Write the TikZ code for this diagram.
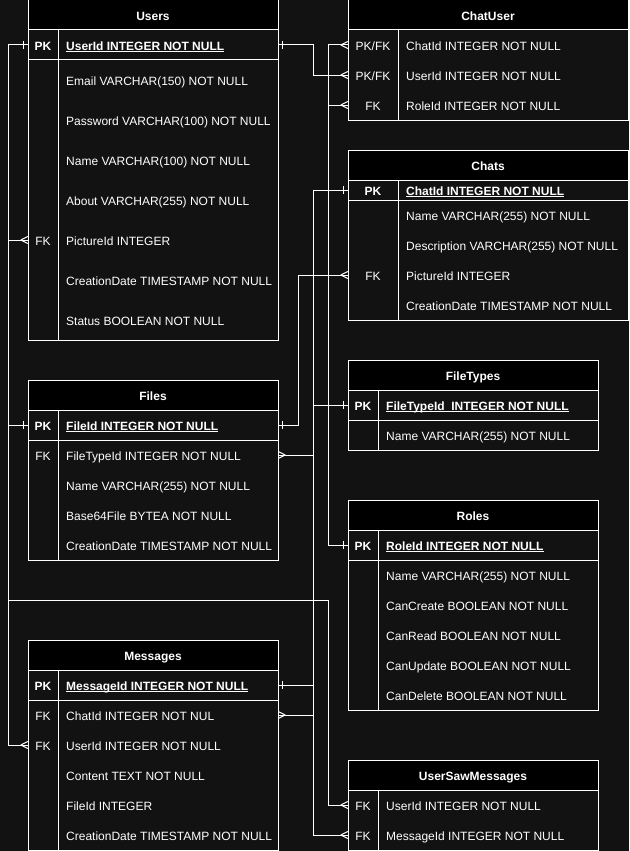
\documentclass[tikz,border=0pt]{standalone}
\usepackage{fontspec}
\setmainfont{Liberation Sans}
\definecolor{bgc}{HTML}{121212}
\newcommand\pkul[1]{\setbox0\hbox{#1}\rlap{\rule[-2pt]{\wd0}{0.8pt}}\box0}
\begin{document}
\begin{tikzpicture}[x=1pt,y=-1pt,
  tblbox/.style={draw=white, line width=1pt, inner sep=0pt, minimum width=#1},
  hdr/.style={draw=white, fill=black, line width=1pt},
  sep/.style={draw=white, line width=1pt},
  rowbox/.style={draw=none, inner sep=0pt, minimum width=#1},
  fld/.style={anchor=west, text=white, inner sep=0pt, text height=8.6pt, text depth=0pt, yshift=-0.8pt, font=\fontsize{12}{14}\selectfont},
  fldb/.style={fld, font=\bfseries\fontsize{12}{14}\selectfont},
  keyl/.style={anchor=center, text=white, inner sep=0pt, text height=8.6pt, text depth=0pt, yshift=-0.8pt, font=\fontsize{12}{14}\selectfont},
  keyb/.style={keyl, font=\bfseries\fontsize{12}{14}\selectfont},
  ttl/.style={keyb},
  conn/.style={draw=white, line width=1pt},
  pics/onemk/.style={code={\draw[conn] (-4,-4) -- (-4,4);}},
  pics/manymk/.style={code={\draw[conn] (-7,0) -- (0,-3.5) (-7,0) -- (0,3.5);}},
]
\useasboundingbox (0,0) rectangle (629,851);
\fill[bgc] (0,0) rectangle (629,851);

% ---------------- Users ----------------
\node[tblbox=250pt, minimum height=340pt] (users) at (153,170) {};
\draw[hdr] (28,0) rectangle (278,30);
\node[ttl] (usersT) at (153,15) {Users};
\draw[sep] (58,30) -- (58,340);
\draw[sep] (28,60) -- (278,60);
\node[rowbox=250pt, minimum height=30pt] (uUid) at (153,45) {};
\node[keyb] (uUidK) at (43,45) {PK};
\node[fldb] (uUidT) at (66,45) {\pkul{UserId INTEGER NOT NULL}};
\node[fld] (uEmail) at (66,80) {Email VARCHAR(150) NOT NULL};
\node[fld] (uPass) at (66,120) {Password VARCHAR(100) NOT NULL};
\node[fld] (uName) at (66,160) {Name VARCHAR(100) NOT NULL};
\node[fld] (uAbout) at (66,200) {About VARCHAR(255) NOT NULL};
\node[rowbox=250pt, minimum height=40pt] (uPic) at (153,240) {};
\node[keyl] (uPicK) at (43,240) {FK};
\node[fld] (uPicT) at (66,240) {PictureId INTEGER};
\node[fld] (uCr) at (66,280) {CreationDate TIMESTAMP NOT NULL};
\node[fld] (uSt) at (66,320) {Status BOOLEAN NOT NULL};

% ---------------- ChatUser ----------------
\node[tblbox=280pt, minimum height=120pt] (chatuser) at (488,60) {};
\draw[hdr] (348,0) rectangle (628,30);
\node[ttl] (chatuserT) at (488,15) {ChatUser};
\draw[sep] (398,30) -- (398,120);
\node[rowbox=280pt, minimum height=30pt] (cuCid) at (488,45) {};
\node[keyl] (cuCidK) at (373,45) {PK/FK};
\node[fld] (cuCidT) at (406,45) {ChatId INTEGER NOT NULL};
\node[rowbox=280pt, minimum height=30pt] (cuUid) at (488,75) {};
\node[keyl] (cuUidK) at (373,75) {PK/FK};
\node[fld] (cuUidT) at (406,75) {UserId INTEGER NOT NULL};
\node[rowbox=280pt, minimum height=30pt] (cuRid) at (488,105) {};
\node[keyl] (cuRidK) at (373,105) {FK};
\node[fld] (cuRidT) at (406,105) {RoleId INTEGER NOT NULL};

% ---------------- Chats ----------------
\node[tblbox=280pt, minimum height=170pt] (chats) at (488,235) {};
\draw[hdr] (348,150) rectangle (628,180);
\node[ttl] (chatsT) at (488,165) {Chats};
\draw[sep] (398,180) -- (398,320);
\draw[sep] (348,200) -- (628,200);
\node[rowbox=280pt, minimum height=20pt] (chId) at (488,190) {};
\node[keyb] (chIdK) at (373,190) {PK};
\node[fldb] (chIdT) at (406,190) {\pkul{ChatId INTEGER NOT NULL}};
\node[fld] (chName) at (406,215) {Name VARCHAR(255) NOT NULL};
\node[fld] (chDesc) at (406,245) {Description VARCHAR(255) NOT NULL};
\node[rowbox=280pt, minimum height=30pt] (chPic) at (488,275) {};
\node[keyl] (chPicK) at (373,275) {FK};
\node[fld] (chPicT) at (406,275) {PictureId INTEGER};
\node[fld] (chCr) at (406,305) {CreationDate TIMESTAMP NOT NULL};

% ---------------- Files ----------------
\node[tblbox=250pt, minimum height=180pt] (files) at (153,470) {};
\draw[hdr] (28,380) rectangle (278,410);
\node[ttl] (filesT) at (153,395) {Files};
\draw[sep] (58,410) -- (58,560);
\draw[sep] (28,440) -- (278,440);
\node[rowbox=250pt, minimum height=30pt] (fId) at (153,425) {};
\node[keyb] (fIdK) at (43,425) {PK};
\node[fldb] (fIdT) at (66,425) {\pkul{FileId INTEGER NOT NULL}};
\node[rowbox=250pt, minimum height=30pt] (fFt) at (153,455) {};
\node[keyl] (fFtK) at (43,455) {FK};
\node[fld] (fFtT) at (66,455) {FileTypeId INTEGER NOT NULL};
\node[fld] (fName) at (66,485) {Name VARCHAR(255) NOT NULL};
\node[fld] (fB64) at (66,515) {Base64File BYTEA NOT NULL};
\node[fld] (fCr) at (66,545) {CreationDate TIMESTAMP NOT NULL};

% ---------------- FileTypes ----------------
\node[tblbox=250pt, minimum height=90pt] (filetypes) at (473,405) {};
\draw[hdr] (348,360) rectangle (598,390);
\node[ttl] (filetypesT) at (473,375) {FileTypes};
\draw[sep] (378,390) -- (378,450);
\draw[sep] (348,420) -- (598,420);
\node[rowbox=250pt, minimum height=30pt] (ftId) at (473,405) {};
\node[keyb] (ftIdK) at (363,405) {PK};
\node[fldb] (ftIdT) at (386,405) {\pkul{FileTypeId\ \ INTEGER NOT NULL}};
\node[fld] (ftName) at (386,435) {Name VARCHAR(255) NOT NULL};

% ---------------- Roles ----------------
\node[tblbox=250pt, minimum height=210pt] (roles) at (473,605) {};
\draw[hdr] (348,500) rectangle (598,530);
\node[ttl] (rolesT) at (473,515) {Roles};
\draw[sep] (378,530) -- (378,710);
\draw[sep] (348,560) -- (598,560);
\node[rowbox=250pt, minimum height=30pt] (rId) at (473,545) {};
\node[keyb] (rIdK) at (363,545) {PK};
\node[fldb] (rIdT) at (386,545) {\pkul{RoleId INTEGER NOT NULL}};
\node[fld] (rName) at (386,575) {Name VARCHAR(255) NOT NULL};
\node[fld] (rCc) at (386,605) {CanCreate BOOLEAN NOT NULL};
\node[fld] (rCr) at (386,635) {CanRead BOOLEAN NOT NULL};
\node[fld] (rCu) at (386,665) {CanUpdate BOOLEAN NOT NULL};
\node[fld] (rCd) at (386,695) {CanDelete BOOLEAN NOT NULL};

% ---------------- Messages ----------------
\node[tblbox=250pt, minimum height=210pt] (messages) at (153,745) {};
\draw[hdr] (28,640) rectangle (278,670);
\node[ttl] (messagesT) at (153,655) {Messages};
\draw[sep] (58,670) -- (58,850);
\draw[sep] (28,700) -- (278,700);
\node[rowbox=250pt, minimum height=30pt] (mId) at (153,685) {};
\node[keyb] (mIdK) at (43,685) {PK};
\node[fldb] (mIdT) at (66,685) {\pkul{MessageId INTEGER NOT NULL}};
\node[rowbox=250pt, minimum height=30pt] (mCid) at (153,715) {};
\node[keyl] (mCidK) at (43,715) {FK};
\node[fld] (mCidT) at (66,715) {ChatId INTEGER NOT NUL};
\node[rowbox=250pt, minimum height=30pt] (mUid) at (153,745) {};
\node[keyl] (mUidK) at (43,745) {FK};
\node[fld] (mUidT) at (66,745) {UserId INTEGER NOT NULL};
\node[fld] (mCont) at (66,775) {Content TEXT NOT NULL};
\node[fld] (mFile) at (66,805) {FileId INTEGER};
\node[fld] (mCr) at (66,835) {CreationDate TIMESTAMP NOT NULL};

% ---------------- UserSawMessages ----------------
\node[tblbox=250pt, minimum height=90pt] (usm) at (473,805) {};
\draw[hdr] (348,760) rectangle (598,790);
\node[ttl] (usmT) at (473,775) {UserSawMessages};
\draw[sep] (378,790) -- (378,850);
\node[rowbox=250pt, minimum height=30pt] (usmUid) at (473,805) {};
\node[keyl] (usmUidK) at (363,805) {FK};
\node[fld] (usmUidT) at (386,805) {UserId INTEGER NOT NULL};
\node[rowbox=250pt, minimum height=30pt] (usmMid) at (473,835) {};
\node[keyl] (usmMidK) at (363,835) {FK};
\node[fld] (usmMidT) at (386,835) {MessageId INTEGER NOT NULL};

% ---------------- buses ----------------
\coordinate (busA) at (8,0);
\coordinate (busB) at (298,0);
\coordinate (busC) at (313,0);
\coordinate (busD) at (328.5,0);
\coordinate (bendE) at (0,600);

% ---------------- connectors ----------------
\draw[conn] (uUid.west) -- (busA |- uUid.west) -- (busA |- mUid.west) -- (mUid.west);
\draw[conn] (uUid.west) -- (busA |- uUid.west) -- (busA |- bendE) -- (busD |- bendE) -- (busD |- usmUid.west) -- (usmUid.west);
\draw[conn] (uUid.east) -- (busC |- uUid.east) -- (busC |- cuUid.west) -- (cuUid.west);
\draw[conn] (chId.west) -- (busD |- chId.west) -- (busD |- cuCid.west) -- (cuCid.west);
\draw[conn] (rId.west) -- (busD |- rId.west) -- (busD |- cuRid.west) -- (cuRid.west);
\draw[conn] (fId.west) -- (busA |- fId.west) -- (busA |- uPic.west) -- (uPic.west);
\draw[conn] (fId.east) -- (busB |- fId.east) -- (busB |- chPic.west) -- (chPic.west);
\draw[conn] (chId.west) -- (busC |- chId.west) -- (busC |- mCid.east) -- (mCid.east);
\draw[conn] (ftId.west) -- (busC |- ftId.west) -- (busC |- fFt.east) -- (fFt.east);
\draw[conn] (mId.east) -- (busC |- mId.east) -- (busC |- usmMid.west) -- (usmMid.west);

% ---------------- end marks ----------------
\pic at (uUid.west) {onemk};
\pic[xscale=-1] at (uUid.east) {onemk};
\pic at (chId.west) {onemk};
\pic at (rId.west) {onemk};
\pic at (fId.west) {onemk};
\pic[xscale=-1] at (fId.east) {onemk};
\pic at (ftId.west) {onemk};
\pic[xscale=-1] at (mId.east) {onemk};
\pic at (mUid.west) {manymk};
\pic at (usmUid.west) {manymk};
\pic at (cuUid.west) {manymk};
\pic at (cuCid.west) {manymk};
\pic at (cuRid.west) {manymk};
\pic at (uPic.west) {manymk};
\pic at (chPic.west) {manymk};
\pic[xscale=-1] at (mCid.east) {manymk};
\pic[xscale=-1] at (fFt.east) {manymk};
\pic at (usmMid.west) {manymk};
\end{tikzpicture}
\end{document}
